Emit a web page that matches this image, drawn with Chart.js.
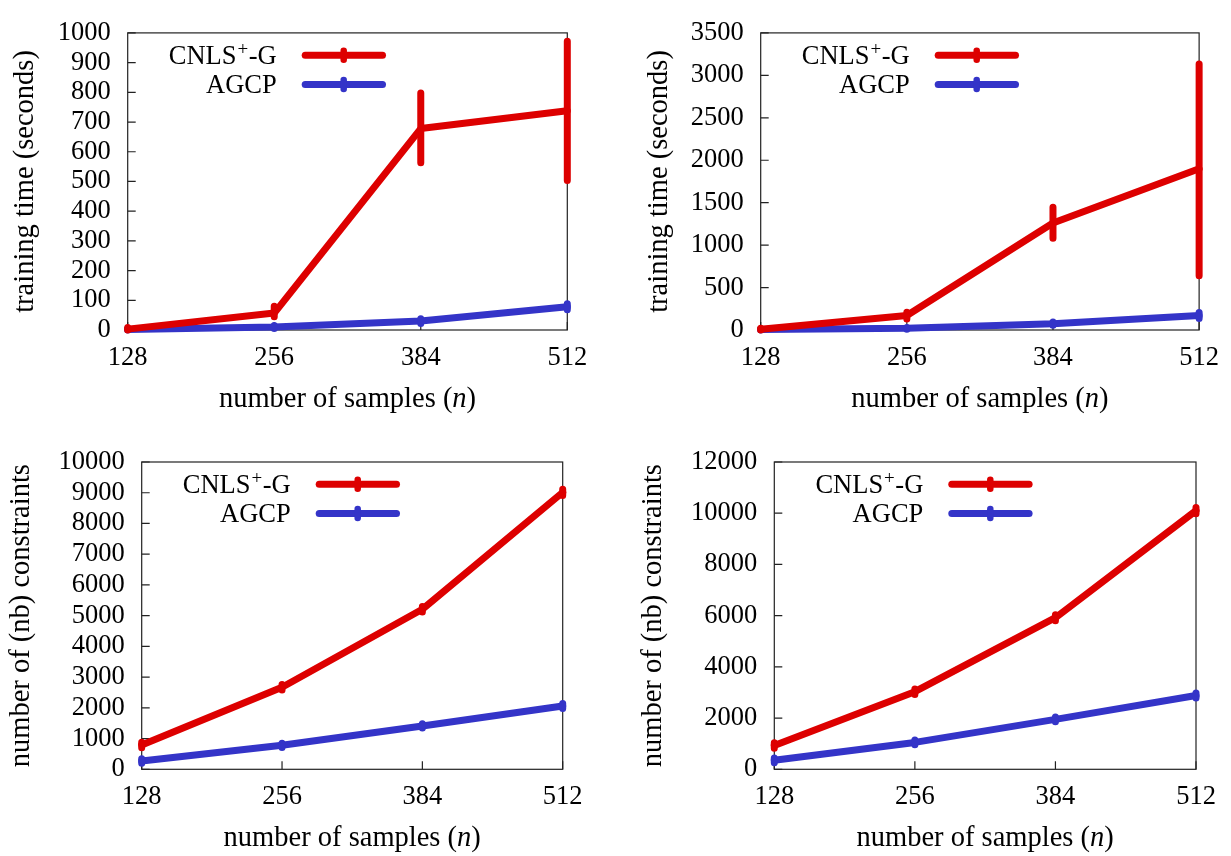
<!DOCTYPE html>
<html>
<head>
<meta charset="utf-8">
<script src="https://cdn.jsdelivr.net/npm/chart.js@4.4.1/dist/chart.umd.min.js"></script>
<style>
html, body { margin: 0; padding: 0; background: #fff; }
#wrap { position: relative; width: 1231px; height: 856px; overflow: hidden; }
#wrap canvas { position: absolute; }
</style>
</head>
<body>
<div id="wrap">
	<canvas id="c0"></canvas>
	<canvas id="c1"></canvas>
	<canvas id="c2"></canvas>
	<canvas id="c3"></canvas>
</div>
<script>
Chart.defaults.font.family = "'Liberation Serif', 'DejaVu Serif', serif"
Chart.defaults.font.size = 26.5
Chart.defaults.color = '#000'

// x axis: number of samples
const samples = [128, 256, 384, 512]
const seriesNames = ['CNLS+-G', 'AGCP']

// training time, first setting (seconds), with error bar ends
const time1Cnls   = [3, 57, 678, 738]
const time1CnlsLo = [0, 45, 563, 503]
const time1CnlsHi = [8, 80, 798, 972]
const time1Agcp   = [2, 10, 30, 78]
const time1AgcpLo = [0, 5, 22, 68]
const time1AgcpHi = [4, 15, 38, 88]

// training time, second setting (seconds)
const time2Cnls   = [10, 170, 1260, 1900]
const time2CnlsLo = [0, 130, 1080, 640]
const time2CnlsHi = [20, 210, 1445, 3135]
const time2Agcp   = [5, 20, 75, 170]
const time2AgcpLo = [0, 10, 55, 135]
const time2AgcpHi = [10, 30, 95, 205]

// number of (nb) constraints, first setting
const cons1Cnls   = [790, 2670, 5210, 9010]
const cons1CnlsLo = [700, 2580, 5120, 8910]
const cons1CnlsHi = [880, 2760, 5300, 9110]
const cons1Agcp   = [270, 780, 1410, 2060]
const cons1AgcpLo = [200, 710, 1340, 1980]
const cons1AgcpHi = [340, 850, 1480, 2140]

// number of (nb) constraints, second setting
const cons2Cnls   = [930, 3030, 5920, 10100]
const cons2CnlsLo = [820, 2920, 5800, 9980]
const cons2CnlsHi = [1040, 3140, 6040, 10220]
const cons2Agcp   = [350, 1050, 1950, 2880]
const cons2AgcpLo = [260, 960, 1860, 2780]
const cons2AgcpHi = [440, 1140, 2040, 2980]

// tick labels
const xTicks = [128, 256, 384, 512]
const timeTicks1 = [0, 100, 200, 300, 400, 500, 600, 700, 800, 900, 1000]
const timeTicks2 = [0, 500, 1000, 1500, 2000, 2500, 3000, 3500]
const consTicks1 = [0, 1000, 2000, 3000, 4000, 5000, 6000, 7000, 8000, 9000, 10000]
const consTicks2 = [0, 2000, 4000, 6000, 8000, 10000, 12000]

const xTitle = ['number of samples (', 'n', ')']
const RED = 'rgb(221,0,0)'
const BLUE = 'rgb(52,52,200)'
const SERIF = "'Liberation Serif', 'DejaVu Serif', serif"
const TITLE_SIZE = 28.5

// canvas box [left, top, w, h] and plot frame [left, right, top, bottom], page pixels
const panels = [
	{ id: 'c0', box: [0, 0, 615, 428], plot: [127.7, 567.3, 22.7, 330], titleX: 26,
	  yTitle: 'training time (seconds)', yTicks: timeTicks1,
	  series: [[time1Cnls, time1CnlsLo, time1CnlsHi], [time1Agcp, time1AgcpLo, time1AgcpHi]] },
	{ id: 'c1', box: [615, 0, 616, 428], plot: [760.7, 1200, 22.7, 330], titleX: 660,
	  yTitle: 'training time (seconds)', yTicks: timeTicks2,
	  series: [[time2Cnls, time2CnlsLo, time2CnlsHi], [time2Agcp, time2AgcpLo, time2AgcpHi]] },
	{ id: 'c2', box: [0, 428, 615, 428], plot: [141.7, 562.7, 462, 769.3], titleX: 21.5,
	  yTitle: 'number of (nb) constraints', yTicks: consTicks1,
	  series: [[cons1Cnls, cons1CnlsLo, cons1CnlsHi], [cons1Agcp, cons1AgcpLo, cons1AgcpHi]] },
	{ id: 'c3', box: [615, 428, 616, 428], plot: [774.3, 1196, 462, 769.3], titleX: 654,
	  yTitle: 'number of (nb) constraints', yTicks: consTicks2,
	  series: [[cons2Cnls, cons2CnlsLo, cons2CnlsHi], [cons2Agcp, cons2AgcpLo, cons2AgcpHi]] },
]

// gnuplot look: frame, inward ticks, error bars, key and x label
const gnuplotLook = {
	id: 'gnuplotLook',
	beforeDatasetsDraw(chart) {
		const { ctx, chartArea: a, scales: { x, y } } = chart
		ctx.save()
		ctx.strokeStyle = '#222'
		ctx.lineWidth = 1.2
		ctx.strokeRect(a.left, a.top, a.width, a.height)
		ctx.beginPath()
		y.ticks.forEach(t => {
			const py = y.getPixelForValue(t.value)
			ctx.moveTo(a.left, py); ctx.lineTo(a.left + 8, py)
		})
		x.ticks.forEach(t => {
			const px = x.getPixelForValue(t.value)
			ctx.moveTo(px, a.bottom); ctx.lineTo(px, a.bottom - 8)
		})
		ctx.stroke()
		ctx.restore()
	},
	afterDatasetDraw(chart, args) {
		const ds = chart.data.datasets[args.index]
		const { ctx, scales: { x, y } } = chart
		ctx.save()
		ctx.strokeStyle = ds.borderColor
		ctx.lineWidth = 7
		ctx.lineCap = 'round'
		ctx.beginPath()
		ds.data.forEach(p => {
			const px = x.getPixelForValue(p.x)
			ctx.moveTo(px, y.getPixelForValue(p.lo))
			ctx.lineTo(px, y.getPixelForValue(p.hi))
		})
		ctx.stroke()
		ctx.restore()
	},
	afterDraw(chart) {
		const { ctx, chartArea: a } = chart
		ctx.save()
		// key
		chart.data.datasets.forEach((ds, i) => {
			const ry = a.top + 22.3 + i * 29.3
			const tx = a.left + 149
			ctx.fillStyle = '#000'
			ctx.textBaseline = 'alphabetic'
			ctx.textAlign = 'right'
			const parts = ds.label.split('+')
			ctx.font = '26.5px ' + SERIF
			if (parts.length > 1) {
				ctx.fillText(parts[1], tx, ry + 8.7)
				const w1 = ctx.measureText(parts[1]).width
				ctx.font = '19px ' + SERIF
				ctx.fillText('+', tx - w1 - 0.5, ry - 0.5)
				const w2 = ctx.measureText('+').width
				ctx.font = '26.5px ' + SERIF
				ctx.fillText(parts[0], tx - w1 - w2 - 1.5, ry + 8.7)
			} else {
				ctx.fillText(ds.label, tx, ry + 8.7)
			}
			ctx.strokeStyle = ds.borderColor
			ctx.lineCap = 'round'
			ctx.lineWidth = 7
			ctx.beginPath()
			ctx.moveTo(a.left + 177.5, ry); ctx.lineTo(a.left + 254.8, ry)
			ctx.stroke()
			ctx.lineWidth = 6.5
			ctx.beginPath()
			ctx.moveTo(a.left + 216, ry - 4.5); ctx.lineTo(a.left + 216, ry + 4.5)
			ctx.stroke()
		})
		// x label with italic n
		ctx.fillStyle = '#000'
		ctx.textAlign = 'left'
		ctx.textBaseline = 'alphabetic'
		const fonts = [TITLE_SIZE + 'px ' + SERIF, 'italic ' + TITLE_SIZE + 'px ' + SERIF, TITLE_SIZE + 'px ' + SERIF]
		const widths = xTitle.map((s, i) => { ctx.font = fonts[i]; return ctx.measureText(s).width })
		let cx = (a.left + a.right) / 2 - widths.reduce((s, w) => s + w, 0) / 2
		const by = a.bottom + 77
		xTitle.forEach((s, i) => {
			ctx.font = fonts[i]
			ctx.fillText(s, cx, by)
			cx += widths[i]
		})
		ctx.restore()
	}
}

panels.forEach(p => {
	const [bl, bt, bw, bh] = p.box
	const [pl, pr, pt, pb] = p.plot
	const cv = document.getElementById(p.id)
	cv.width = bw; cv.height = bh
	cv.style.left = bl + 'px'; cv.style.top = bt + 'px'
	const colors = [RED, BLUE]
	new Chart(cv, {
		type: 'line',
		data: {
			datasets: p.series.map(([v, lo, hi], k) => ({
				label: seriesNames[k],
				data: samples.map((s, i) => ({ x: s, y: v[i], lo: lo[i], hi: hi[i] })),
				borderColor: colors[k],
				backgroundColor: colors[k],
				borderWidth: 7,
				borderCapStyle: 'round',
				borderJoinStyle: 'round',
				pointRadius: 0,
				tension: 0,
				clip: false,
			}))
		},
		options: {
			responsive: false,
			animation: false,
			events: [],
			layout: { padding: { left: 0, top: pt - bt, right: bl + bw - pr, bottom: 0 } },
			plugins: { legend: { display: false }, tooltip: { enabled: false } },
			scales: {
				x: {
					type: 'linear',
					min: samples[0], max: samples[samples.length - 1],
					grid: { display: false, drawTicks: false },
					border: { display: false },
					ticks: { autoSkip: false, maxRotation: 0, padding: 12, callback: v => String(v) },
					afterBuildTicks: s => { s.ticks = xTicks.map(v => ({ value: v })) },
					afterFit: s => { s.height = bt + bh - pb },
				},
				y: {
					type: 'linear',
					min: p.yTicks[0], max: p.yTicks[p.yTicks.length - 1],
					grid: { display: false, drawTicks: false },
					border: { display: false },
					ticks: { autoSkip: false, padding: 17, callback: v => String(v) },
					afterBuildTicks: s => { s.ticks = p.yTicks.map(v => ({ value: v })) },
					afterFit: s => { s.width = pl - bl },
					title: { display: true, text: p.yTitle, font: { size: TITLE_SIZE },
					         padding: { top: p.titleX - bl - TITLE_SIZE * 0.6, bottom: 0 } },
				}
			}
		},
		plugins: [gnuplotLook]
	})
})
</script>
</body>
</html>
